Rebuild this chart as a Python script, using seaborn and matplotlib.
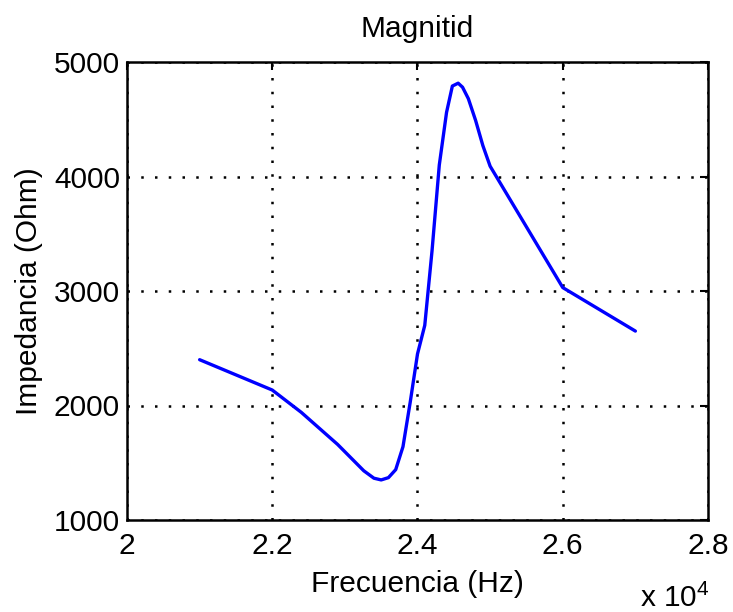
import matplotlib
matplotlib.use("Agg")
import matplotlib.pyplot as plt
import seaborn as sns
import pandas as pd
from matplotlib.ticker import FixedLocator, FuncFormatter

# Data
freq_hz = [21000, 22000, 22400, 22900, 23260, 23400, 23500, 23600, 23700,
           23800, 23900, 24000, 24100, 24200, 24300, 24400, 24480, 24560,
           24620, 24700, 24800, 24900, 25000, 26000, 27000]
impedance_ohm = [2400, 2135, 1940, 1660, 1430, 1365, 1350, 1370, 1440,
                 1640, 2030, 2450, 2700, 3350, 4100, 4560, 4790, 4815,
                 4780, 4680, 4490, 4270, 4090, 3030, 2650]
x_ticks = [20000, 22000, 24000, 26000, 28000]
y_ticks = [1000, 2000, 3000, 4000, 5000]
title_text = "Magnitid"
x_label = "Frecuencia (Hz)"
y_label = "Impedancia (Ohm)"

sns.set_style("white")
plt.rcParams['font.family'] = ['Liberation Sans', 'DejaVu Sans']
plt.rcParams['mathtext.default'] = 'regular'
plt.rcParams['text.color'] = 'black'
plt.rcParams['axes.labelcolor'] = 'black'

FS = 21.5
fig = plt.figure(figsize=(7.33, 6.12), dpi=100)
ax = fig.add_axes([127/733, 1 - 520/612, (708-127)/733, (520-62)/612])

df = pd.DataFrame({"f": freq_hz, "z": impedance_ohm})
sns.lineplot(data=df, x="f", y="z", ax=ax, sort=False, estimator=None,
             color=(0, 0, 1), linewidth=2.4, zorder=3)

ax.set_xlim(20000, 28000)
ax.set_ylim(1000, 5000)
ax.xaxis.set_major_locator(FixedLocator(x_ticks))
ax.yaxis.set_major_locator(FixedLocator(y_ticks))
ax.xaxis.set_major_formatter(FuncFormatter(lambda v, p: f"{v/1e4:g}"))
ax.yaxis.set_major_formatter(FuncFormatter(lambda v, p: f"{int(v)}"))

ax.grid(True, color='black', linestyle=(0, (1, 4.5)), linewidth=1.8)
for s in ax.spines.values():
    s.set_visible(True)
    s.set_color('black')
    s.set_linewidth(1.8)

ax.tick_params(axis='both', direction='in', length=6, width=1.5,
               top=True, right=True, labelsize=FS, colors='black')
ax.tick_params(axis='x', pad=9)
ax.tick_params(axis='y', pad=5)

ax.set_title(title_text, fontsize=FS, pad=18, color='black')
ax.set_xlabel(x_label, fontsize=FS, labelpad=7)
ax.set_ylabel(y_label, fontsize=FS, labelpad=8)

fig.text(640/733, 1 - 607/612, "x 10$^4$", fontsize=FS, ha='left', va='baseline')

fig.savefig("out.png", dpi=100)
